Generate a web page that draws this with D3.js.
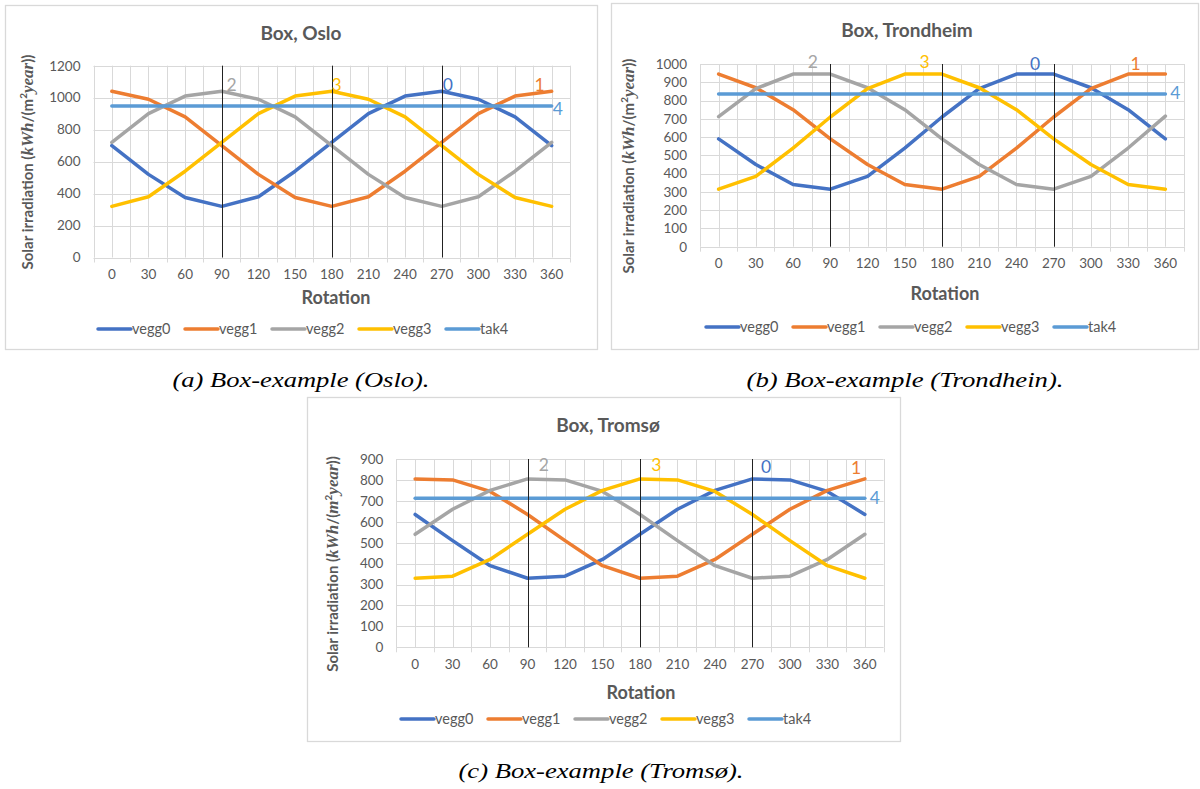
<!DOCTYPE html>
<html>
<head>
<meta charset="utf-8">
<script src="https://cdn.jsdelivr.net/npm/d3@7"></script>
<style>
  body { margin: 0; background: #fff; }
  svg { display: block; }
</style>
</head>
<body>
<div id="chart"></div>
<script>
// Rotation of the box (degrees) - shared x categories
const rotations = [0, 30, 60, 90, 120, 150, 180, 210, 240, 270, 300, 330, 360];
const seriesNames = ["vegg0", "vegg1", "vegg2", "vegg3", "tak4"];
const seriesColors = ["#4472C4", "#ED7D31", "#A5A5A5", "#FFC000", "#5B9BD5"];

// Oslo, kWh/(m2 year)
const osloVegg0 = [700, 520, 375, 320, 380, 540, 720, 900, 1010, 1040, 990, 880, 700];
const osloVegg1 = [1040, 990, 880, 700, 520, 375, 320, 380, 540, 720, 900, 1010, 1040];
const osloVegg2 = [720, 900, 1010, 1040, 990, 880, 700, 520, 375, 320, 380, 540, 720];
const osloVegg3 = [320, 380, 540, 720, 900, 1010, 1040, 990, 880, 700, 520, 375, 320];
const osloTak4  = [948, 948, 948, 948, 948, 948, 948, 948, 948, 948, 948, 948, 948];

// Trondheim
const trdVegg0 = [590, 450, 340, 315, 385, 540, 710, 865, 945, 945, 870, 750, 590];
const trdVegg1 = [945, 870, 750, 590, 450, 340, 315, 385, 540, 710, 865, 945, 945];
const trdVegg2 = [712, 865, 945, 945, 870, 750, 590, 450, 340, 315, 385, 540, 715];
const trdVegg3 = [315, 385, 540, 710, 865, 945, 945, 870, 750, 590, 450, 340, 315];
const trdTak4  = [836, 836, 836, 836, 836, 836, 836, 836, 836, 836, 836, 836, 836];

// Tromsø
const tromsoVegg0 = [635, 510, 390, 330, 340, 420, 540, 660, 750, 805, 800, 745, 635];
const tromsoVegg1 = [805, 800, 745, 635, 510, 390, 330, 340, 420, 540, 660, 750, 805];
const tromsoVegg2 = [540, 660, 750, 805, 800, 745, 635, 510, 390, 330, 340, 420, 540];
const tromsoVegg3 = [330, 340, 420, 540, 660, 750, 805, 800, 745, 635, 510, 390, 330];
const tromsoTak4  = [712, 712, 712, 712, 712, 712, 712, 712, 712, 712, 712, 712, 712];

// y tick values
const osloTicks = [0, 200, 400, 600, 800, 1000, 1200];
const trdTicks = [0, 100, 200, 300, 400, 500, 600, 700, 800, 900, 1000];
const tromsoTicks = [0, 100, 200, 300, 400, 500, 600, 700, 800, 900];

// vertical marker lines at these rotations
const markerRotations = [90, 180, 270];

// wall-number annotations (label, rotation, value, series index)
const osloNotes = [["2", 98, 1080, 2], ["3", 184, 1080, 3], ["0", 275, 1080, 0], ["1", 350, 1080, 1], ["4", 365, 934, 4]];
const trdNotes = [["2", 76, 1011, 2], ["3", 166, 1011, 3], ["0", 255, 1000, 0], ["1", 336, 1000, 1], ["4", 368, 841, 4]];
const tromsoNotes = [["2", 103, 871, 2], ["3", 193, 871, 3], ["0", 281, 862, 0], ["1", 353, 857, 1], ["4", 368, 714, 4]];

const svg = d3.select("#chart").append("svg")
  .attr("width", 1200)
  .attr("height", 789);

const textColor = "#595959";
const gridColor = "#d9d9d9";

function drawChart(cfg) {
  const g = svg.append("g");

  // outer frame of the chart
  g.append("rect")
    .attr("x", cfg.box[0] + 0.5).attr("y", cfg.box[1] + 0.5)
    .attr("width", cfg.box[2] - cfg.box[0]).attr("height", cfg.box[3] - cfg.box[1])
    .attr("fill", "#fff").attr("stroke", gridColor).attr("stroke-width", 1.3);

  const x = d3.scaleBand().domain(rotations).range([cfg.left, cfg.right]);
  const bw = x.bandwidth();
  const xr = d3.scaleLinear().domain([0, 360]).range([x(0) + bw / 2, x(360) + bw / 2]);
  const y = d3.scaleLinear().domain([0, d3.max(cfg.ticks)]).range([cfg.bottom, cfg.top]);

  // horizontal gridlines
  g.append("g").selectAll("line").data(cfg.ticks).enter().append("line")
    .attr("x1", cfg.left).attr("x2", cfg.right)
    .attr("y1", d => Math.round(y(d)) + 0.5).attr("y2", d => Math.round(y(d)) + 0.5)
    .attr("stroke", gridColor).attr("stroke-width", 1);

  // vertical gridlines: band edges (major) and band centres (minor)
  const edges = rotations.map(r => x(r)).concat([cfg.right]);
  const centres = rotations.map(r => x(r) + bw / 2);
  g.append("g").selectAll("line").data(edges.concat(centres)).enter().append("line")
    .attr("x1", d => Math.round(d) + 0.5).attr("x2", d => Math.round(d) + 0.5)
    .attr("y1", cfg.top).attr("y2", cfg.bottom)
    .attr("stroke", gridColor).attr("stroke-width", 1);

  // tick marks under the category axis
  g.append("g").selectAll("line").data(edges).enter().append("line")
    .attr("x1", d => Math.round(d) + 0.5).attr("x2", d => Math.round(d) + 0.5)
    .attr("y1", cfg.bottom).attr("y2", cfg.bottom + 5)
    .attr("stroke", gridColor).attr("stroke-width", 1);

  // y axis labels
  const yAxis = g.append("g")
    .attr("transform", `translate(${cfg.left},0)`)
    .call(d3.axisLeft(y).tickValues(cfg.ticks).tickSize(0).tickPadding(13).tickFormat(d3.format("d")));
  yAxis.select(".domain").remove();
  yAxis.selectAll("text")
    .attr("fill", textColor).style("font-family", "Lato").style("font-size", "13.5px");

  // x axis labels
  const xAxis = g.append("g")
    .attr("transform", `translate(0,${cfg.bottom})`)
    .call(d3.axisBottom(x).tickSize(0).tickPadding(12));
  xAxis.select(".domain").remove();
  xAxis.selectAll("text")
    .attr("fill", textColor).style("font-family", "Lato").style("font-size", "13.5px");

  // series lines
  const line = d3.line().x((d, i) => xr(rotations[i])).y(d => y(d));
  cfg.series.forEach((vals, i) => {
    g.append("path")
      .datum(vals)
      .attr("d", line)
      .attr("fill", "none")
      .attr("stroke", seriesColors[i])
      .attr("stroke-width", 3.5)
      .attr("stroke-linejoin", "round")
      .attr("stroke-linecap", "round");
  });

  // black marker lines
  g.append("g").selectAll("line").data(markerRotations).enter().append("line")
    .attr("x1", d => Math.round(xr(d)) + 0.5).attr("x2", d => Math.round(xr(d)) + 0.5)
    .attr("y1", cfg.top).attr("y2", cfg.bottom)
    .attr("stroke", "#222").attr("stroke-width", 1);

  // annotations
  g.append("g").selectAll("text").data(cfg.notes).enter().append("text")
    .attr("x", d => xr(d[1]))
    .attr("y", d => y(d[2]))
    .attr("dy", "0.36em")
    .attr("text-anchor", "middle")
    .attr("fill", d => seriesColors[d[3]])
    .style("font-family", "Lato").style("font-size", "17.5px")
    .text(d => d[0]);

  // title
  g.append("text")
    .attr("x", cfg.titleX).attr("y", cfg.titleY)
    .attr("text-anchor", "middle")
    .attr("fill", textColor)
    .style("font-family", "Lato").style("font-weight", "bold").style("font-size", "19px")
    .text(cfg.title);

  // x title
  g.append("text")
    .attr("x", cfg.rotX).attr("y", cfg.rotY)
    .attr("text-anchor", "middle")
    .attr("fill", textColor)
    .style("font-family", "Lato").style("font-weight", "bold").style("font-size", "18px")
    .text("Rotation");

  // y title with math parts
  const yt = g.append("text")
    .attr("transform", `translate(${cfg.yTitleX},${cfg.yTitleY}) rotate(-90)`)
    .attr("text-anchor", "middle")
    .attr("fill", textColor)
    .style("font-family", "Lato").style("font-weight", "bold").style("font-size", "15px");
  const mathFont = "Liberation Serif";
  yt.append("tspan").text("Solar irradiation (");
  yt.append("tspan").style("font-family", mathFont).style("font-style", "italic").style("font-size", "17px").text("kWh");
  yt.append("tspan").text("/(");
  yt.append("tspan").style("font-family", cfg.italicM ? mathFont : "Lato")
    .style("font-style", cfg.italicM ? "italic" : "normal")
    .style("font-size", cfg.italicM ? "17px" : "15px").text("m");
  yt.append("tspan").attr("dy", "-6").style("font-size", "10px").text("2");
  yt.append("tspan").attr("dy", "6").style("font-family", mathFont).style("font-style", "italic").style("font-size", "17px").text("year");
  yt.append("tspan").text("))");

  // legend
  const leg = g.append("g").selectAll("g").data(seriesNames).enter().append("g")
    .attr("transform", (d, i) => `translate(${cfg.legX + i * 87},${cfg.legY})`);
  leg.append("line")
    .attr("x1", 0).attr("x2", 33).attr("y1", 0).attr("y2", 0)
    .attr("stroke", (d, i) => seriesColors[i]).attr("stroke-width", 3.5)
    .attr("stroke-linecap", "round");
  leg.append("text")
    .attr("x", 34).attr("dy", "0.35em")
    .attr("fill", textColor)
    .style("font-family", "Lato").style("font-size", "14.5px")
    .text(d => d);

  // caption under the chart
  svg.append("text")
    .attr("x", cfg.capX).attr("y", cfg.capY)
    .attr("text-anchor", "middle")
    .attr("fill", "#000")
    .attr("textLength", cfg.capW)
    .attr("lengthAdjust", "spacingAndGlyphs")
    .style("font-family", "Liberation Serif").style("font-style", "italic").style("font-size", "22px")
    .text(cfg.caption);
}

drawChart({
  box: [5, 5, 597, 349],
  left: 93.5, right: 570, top: 65.7, bottom: 257.5,
  ticks: osloTicks,
  series: [osloVegg0, osloVegg1, osloVegg2, osloVegg3, osloTak4],
  notes: osloNotes,
  title: "Box, Oslo", titleX: 301, titleY: 40,
  rotX: 336, rotY: 304,
  yTitleX: 33, yTitleY: 162, italicM: false,
  legX: 98, legY: 329,
  caption: "(a) Box-example (Oslo).", capX: 301, capY: 387, capW: 257
});

drawChart({
  box: [611, 3, 1198, 349],
  left: 700, right: 1184, top: 64, bottom: 246.7,
  ticks: trdTicks,
  series: [trdVegg0, trdVegg1, trdVegg2, trdVegg3, trdTak4],
  notes: trdNotes,
  title: "Box, Trondheim", titleX: 907, titleY: 37,
  rotX: 945, rotY: 300,
  yTitleX: 634, yTitleY: 166, italicM: false,
  legX: 706, legY: 327,
  caption: "(b) Box-example (Trondhein).", capX: 905, capY: 387, capW: 317
});

drawChart({
  box: [307, 397, 900, 741],
  left: 396.4, right: 883.6, top: 459, bottom: 647.3,
  ticks: tromsoTicks,
  series: [tromsoVegg0, tromsoVegg1, tromsoVegg2, tromsoVegg3, tromsoTak4],
  notes: tromsoNotes,
  title: "Box, Tromsø", titleX: 608, titleY: 432,
  rotX: 641, rotY: 699,
  yTitleX: 338, yTitleY: 564, italicM: true,
  legX: 401, legY: 719,
  caption: "(c) Box-example (Tromsø).", capX: 601, capY: 778, capW: 285
});
</script>
</body>
</html>
